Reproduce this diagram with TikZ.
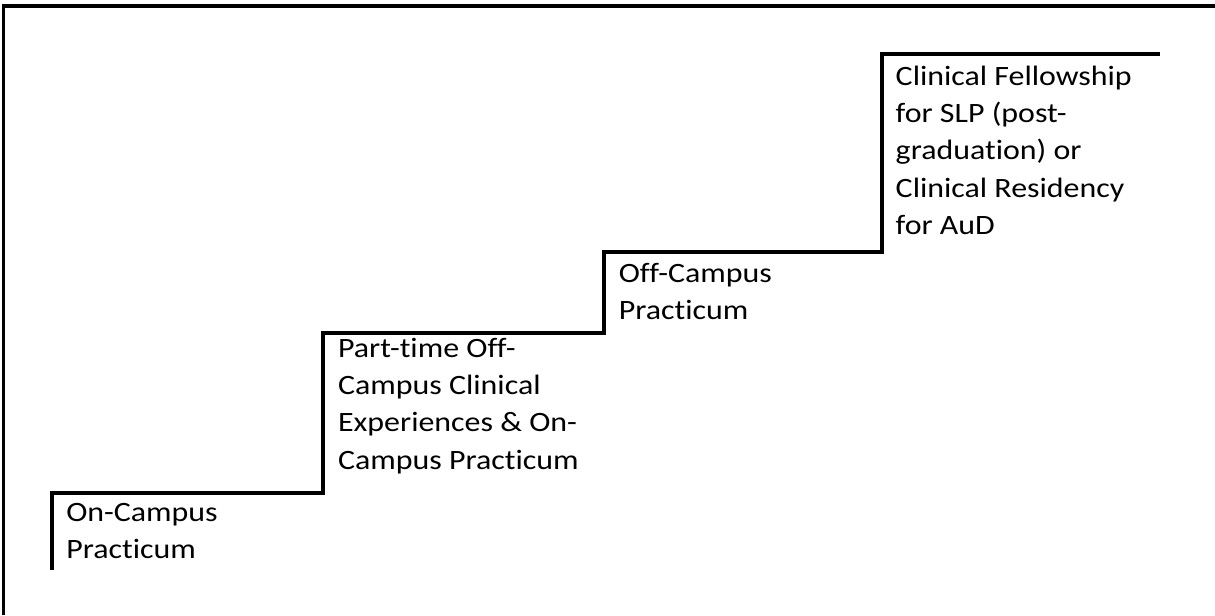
\documentclass[tikz,border=0pt]{standalone}
\usepackage{fontspec}
\setmainfont{Carlito}[FakeStretch=1.14, Ligatures=NoCommon]
\usetikzlibrary{positioning}
\tikzset{
  stairline/.style={line width=2.3pt},
  framelines/.style={line width=2.5pt},
  steplabel/.style={inner sep=0pt, align=left, anchor=north west,
    font=\fontsize{21}{28}\selectfont, execute at begin node=\rule{0pt}{0.8em}}
}

\begin{document}
\begin{tikzpicture}[x=0.75pt,y=-0.75pt]
    \useasboundingbox (0,0) rectangle (1215,615);

    % Outer frame (left and top)
    \draw[framelines] (3.5,615) -- (3.5,6) -- (1215,6);

    % Stair corners
    \coordinate (s0) at (52,570);
    \coordinate (s1) at (52,493);
    \coordinate (s2) at (323,493);
    \coordinate (s3) at (323,333);
    \coordinate (s4) at (604,333);
    \coordinate (s5) at (604,252);
    \coordinate (s6) at (882,252);
    \coordinate (s7) at (882,54);
    \coordinate (s8) at (1160,54);
    \draw[stairline] (s0) -- (s1) -- (s2) -- (s3) -- (s4) -- (s5) -- (s6) -- (s7) -- (s8);

    % Step labels
    \node[steplabel, below right=7.2pt and 10.5pt of s1] (oncampus) {On-Campus\\Practicum};
    \node[steplabel, below right=3.5pt and 11.1pt of s3] (parttime) {Part-time Off-\\Campus Clinical\\Experiences \& On-\\Campus Practicum};
    \node[steplabel, below right=8pt and 10.9pt of s5] (offcampus) {Off-Campus\\Practicum};
    \node[steplabel, below right=8.7pt and 10.1pt of s7] (fellowship) {Clinical Fellowship\\for SLP (post-\\graduation) or\\Clinical Residency\\for AuD};
\end{tikzpicture}
\end{document}
